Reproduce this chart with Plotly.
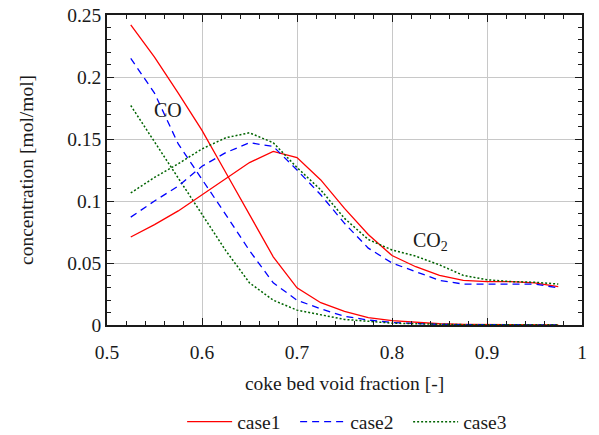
import plotly.graph_objects as go

void_fraction = [0.525, 0.55, 0.575, 0.6, 0.625, 0.65, 0.675, 0.7, 0.725, 0.75,
                 0.775, 0.8, 0.825, 0.85, 0.875, 0.9, 0.925, 0.95, 0.975]

co_case1 = [0.242, 0.216, 0.187, 0.157, 0.123, 0.089, 0.055, 0.030, 0.018, 0.011,
            0.006, 0.0035, 0.002, 0.001, 0.0005, 0.0003, 0.0002, 0.0001, 0.0001]
co_case2 = [0.215, 0.187, 0.146, 0.118, 0.089, 0.060, 0.034, 0.020, 0.013, 0.007,
            0.004, 0.002, 0.001, 0.0005, 0.0003, 0.0002, 0.0001, 0.0001, 0.0001]
co_case3 = [0.177, 0.148, 0.118, 0.090, 0.060, 0.034, 0.020, 0.012, 0.008, 0.0045,
            0.003, 0.0015, 0.001, 0.0005, 0.0003, 0.0002, 0.0001, 0.0001, 0.0001]

co2_case1 = [0.071, 0.081, 0.092, 0.105, 0.118, 0.131, 0.140, 0.135, 0.117, 0.094,
             0.073, 0.056, 0.047, 0.040, 0.036, 0.035, 0.035, 0.034, 0.031]
co2_case2 = [0.087, 0.100, 0.112, 0.128, 0.139, 0.147, 0.144, 0.125, 0.105, 0.082,
             0.062, 0.050, 0.043, 0.036, 0.033, 0.033, 0.033, 0.033, 0.030]
co2_case3 = [0.1065, 0.119, 0.130, 0.142, 0.151, 0.155, 0.147, 0.127, 0.109, 0.086,
             0.069, 0.0605, 0.0555, 0.0485, 0.040, 0.0365, 0.035, 0.0345, 0.033]

case_names = ["case1", "case2", "case3"]
x_ticks = [0.5, 0.6, 0.7, 0.8, 0.9, 1.0]
x_tick_text = ["0.5", "0.6", "0.7", "0.8", "0.9", "1"]
y_ticks = [0, 0.05, 0.1, 0.15, 0.2, 0.25]
y_tick_text = ["0", "0.05", "0.1", "0.15", "0.2", "0.25"]

FONT = "Liberation Serif"
FS = 19.5
TXT = "#1a1a1a"

styles = [
    dict(color="#ff0000", width=1.3, dash="solid"),
    dict(color="#0000ff", width=1.3, dash="7px,5px"),
    dict(color="#006400", width=1.5, dash="2px,2px"),
]

fig = go.Figure()
co_all = [co_case1, co_case2, co_case3]
co2_all = [co2_case1, co2_case2, co2_case3]
for i in range(3):
    fig.add_trace(go.Scatter(x=void_fraction, y=co_all[i], mode="lines",
                             line=styles[i], name=case_names[i], showlegend=True,
                             legendgroup=case_names[i]))
for i in range(3):
    fig.add_trace(go.Scatter(x=void_fraction, y=co2_all[i], mode="lines",
                             line=styles[i], name=case_names[i], showlegend=False,
                             legendgroup=case_names[i]))

fig.add_annotation(x=0.564, y=0.173, text="CO", showarrow=False,
                   font=dict(family=FONT, size=20, color=TXT))
fig.add_annotation(x=0.841, y=0.067, text="CO<sub>2</sub>", showarrow=False,
                   font=dict(family=FONT, size=20, color=TXT))

axis_common = dict(
    showline=True, linecolor="#1a1a1a", linewidth=1.5, mirror="allticks",
    ticks="inside", ticklen=7, tickwidth=1.3, tickcolor="#1a1a1a",
    showgrid=True, gridcolor="#c8c8c8", gridwidth=1, zeroline=False,
    tickfont=dict(family=FONT, size=FS, color=TXT), automargin=False,
)

fig.update_xaxes(range=[0.5, 1.0], tickvals=x_ticks, ticktext=x_tick_text,
                 ticklabelstandoff=9,
                 minor=dict(ticks="inside", dtick=0.02, tick0=0.5, ticklen=4,
                            tickcolor="#1a1a1a", tickwidth=1, showgrid=False),
                 title=dict(text="coke bed void fraction [-]",
                            font=dict(family=FONT, size=FS, color=TXT), standoff=14),
                 **axis_common)
fig.update_yaxes(range=[0, 0.25], tickvals=y_ticks, ticktext=y_tick_text,
                 minor=dict(ticks="inside", dtick=0.01, tick0=0, ticklen=4,
                            tickcolor="#1a1a1a", tickwidth=1, showgrid=False),
                 title=dict(text="concentration [mol/mol]",
                            font=dict(family=FONT, size=FS, color=TXT), standoff=28),
                 **axis_common)

fig.update_layout(
    width=599, height=435,
    margin=dict(l=107, r=17, t=15, b=110, autoexpand=False),
    paper_bgcolor="white", plot_bgcolor="white",
    font=dict(family=FONT, size=FS, color=TXT),
    legend=dict(orientation="h", x=0.515, xanchor="center",
                yref="container", y=0.03, yanchor="middle",
                font=dict(family=FONT, size=FS, color=TXT), itemwidth=45,
                entrywidth=53, entrywidthmode="pixels",
                bgcolor="rgba(0,0,0,0)"),
)

fig.write_html("out.html")
